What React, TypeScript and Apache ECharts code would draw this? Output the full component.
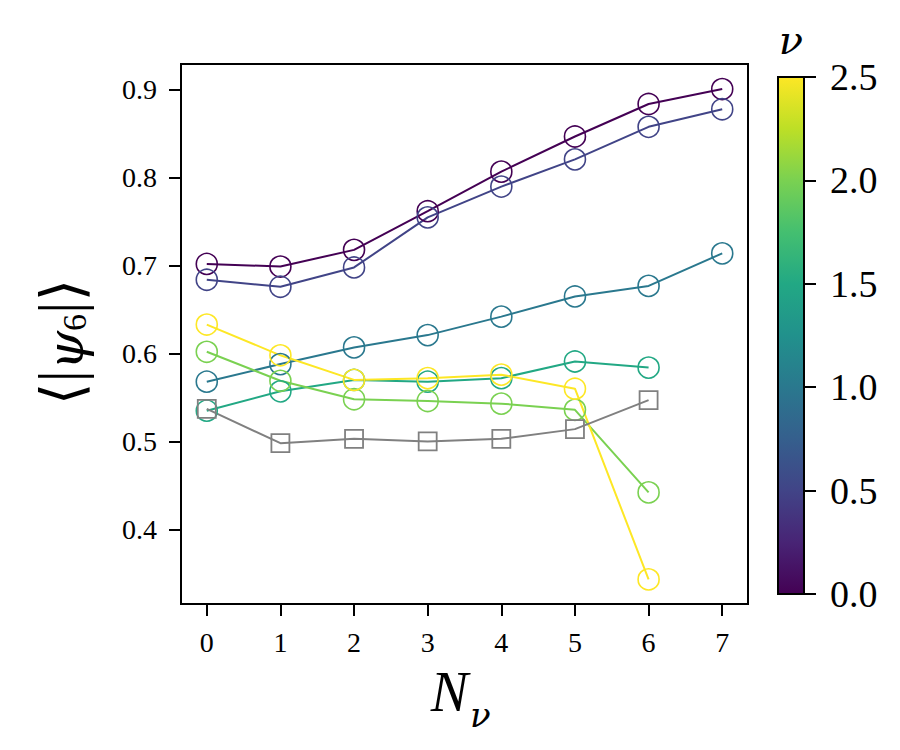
import React, { useEffect, useRef } from "react";
import * as echarts from "echarts";

// ---- data ----
const nCounts = [0, 1, 2, 3, 4, 5, 6, 7];
const nuLevels = [0.0, 0.5, 1.0, 1.5, 2.0, 2.5];
const psiNu00 = [0.702, 0.699, 0.718, 0.762, 0.807, 0.847, 0.884, 0.901];
const psiNu05 = [0.684, 0.676, 0.698, 0.755, 0.790, 0.821, 0.858, 0.878];
const psiNu10 = [0.568, 0.588, 0.607, 0.621, 0.642, 0.665, 0.677, 0.714];
const psiNu15 = [0.535, 0.557, 0.570, 0.568, 0.572, 0.591, 0.584];
const psiNu20 = [0.602, 0.569, 0.548, 0.546, 0.543, 0.536, 0.442];
const psiNu25 = [0.633, 0.598, 0.570, 0.572, 0.576, 0.560, 0.343];
const psiRef = [0.537, 0.498, 0.503, 0.500, 0.503, 0.514, 0.547];
const xTicks = [0, 1, 2, 3, 4, 5, 6, 7];
const yTicks = [0.4, 0.5, 0.6, 0.7, 0.8, 0.9];
const cbTicks = [0.0, 0.5, 1.0, 1.5, 2.0, 2.5];

const viridis = [
  "#440154", "#482475", "#414487", "#355f8d", "#2a788e",
  "#21918c", "#22a884", "#44bf70", "#7ad151", "#bddf26", "#fde725",
];

function hexToRgb(h: string) {
  const n = parseInt(h.slice(1), 16);
  return [(n >> 16) & 255, (n >> 8) & 255, n & 255];
}
function viridisAt(t: number) {
  const p = Math.max(0, Math.min(1, t)) * (viridis.length - 1);
  const i = Math.min(Math.floor(p), viridis.length - 2);
  const f = p - i;
  const a = hexToRgb(viridis[i]);
  const b = hexToRgb(viridis[i + 1]);
  const c = a.map((v, k) => Math.round(v + (b[k] - v) * f));
  return `rgb(${c[0]},${c[1]},${c[2]})`;
}

const SERIF = "'Liberation Serif', 'DejaVu Serif', serif";
const GREEK = "'DejaVu Serif', serif";

export default function App() {
  const ref = useRef<HTMLDivElement>(null);
  useEffect(() => {
    if (!ref.current) return;
    const chart = echarts.init(ref.current, undefined, { renderer: "svg" });
    const groups = [psiNu00, psiNu05, psiNu10, psiNu15, psiNu20, psiNu25];
    const series: any[] = groups.map((vals, gi) => {
      const col = viridisAt(nuLevels[gi] / 2.5);
      return {
        type: "line",
        name: "nu=" + nuLevels[gi],
        data: vals.map((v, i) => [nCounts[i], v]),
        symbol: "circle",
        symbolSize: 21,
        showSymbol: true,
        lineStyle: { color: col, width: 2 },
        itemStyle: { color: "rgba(0,0,0,0)", borderColor: col, borderWidth: 1.6 },
        xAxisIndex: 0,
        yAxisIndex: 0,
        silent: true,
      };
    });
    series.push({
      type: "line",
      name: "ref",
      data: psiRef.map((v, i) => [nCounts[i], v]),
      symbol: "rect",
      symbolSize: 18,
      lineStyle: { color: "#808080", width: 2 },
      itemStyle: { color: "rgba(0,0,0,0)", borderColor: "#808080", borderWidth: 1.8 },
      xAxisIndex: 0,
      yAxisIndex: 0,
      silent: true,
    });
    series.push({
      type: "line",
      data: [],
      xAxisIndex: 1,
      yAxisIndex: 1,
    });

    const cbLeft = 778, cbTop = 77, cbW = 26, cbH = 517;

    chart.setOption({
      animation: false,
      backgroundColor: "#fff",
      grid: [
        { left: 181, top: 64, width: 567, height: 540, show: true, borderColor: "#000", borderWidth: 2, backgroundColor: "transparent" },
        { left: cbLeft, top: cbTop, width: cbW, height: cbH, show: false },
      ],
      xAxis: [
        {
          type: "value", gridIndex: 0, min: -0.35, max: 7.35,
          splitLine: { show: false },
          axisLine: { show: true, onZero: false, lineStyle: { color: "#000", width: 2 } },
          axisTick: { show: true, customValues: xTicks, length: 12, lineStyle: { color: "#000", width: 2 } },
          axisLabel: { customValues: xTicks, margin: 24, fontSize: 28, color: "#000", fontFamily: SERIF, formatter: (v: number) => String(Math.round(v)) },
        },
        { type: "value", gridIndex: 1, show: false, min: 0, max: 1 },
      ],
      yAxis: [
        {
          type: "value", gridIndex: 0, min: 0.315, max: 0.9295,
          splitLine: { show: false },
          axisLine: { show: true, onZero: false, lineStyle: { color: "#000", width: 2 } },
          axisTick: { show: true, customValues: yTicks, length: 12, lineStyle: { color: "#000", width: 2 } },
          axisLabel: { customValues: yTicks, margin: 24, fontSize: 28, color: "#000", fontFamily: SERIF, formatter: (v: number) => v.toFixed(1) },
        },
        {
          type: "value", gridIndex: 1, position: "right", min: 0, max: 2.5, interval: 0.5,
          splitLine: { show: false },
          axisLine: { show: false, onZero: false },
          axisTick: { show: true, length: 12, lineStyle: { color: "#000", width: 2 } },
          axisLabel: { customValues: cbTicks, margin: 26, fontSize: 38, color: "#000", fontFamily: SERIF, formatter: (v: number) => v.toFixed(1) },
        },
      ],
      series,
      graphic: [
        {
          type: "rect", z: -1,
          shape: { x: cbLeft, y: cbTop, width: cbW, height: cbH },
          style: {
            fill: new echarts.graphic.LinearGradient(0, 1, 0, 0,
              viridis.map((c, i) => ({ offset: i / (viridis.length - 1), color: c }))),
            stroke: "#000", lineWidth: 2,
          },
        },
        {
          type: "text", x: 791, y: 40,
          style: { text: "ν", fontSize: 40, fontStyle: "italic", fontFamily: GREEK, fill: "#000", align: "center", verticalAlign: "middle" },
        },
        {
          type: "text", x: 468, y: 720,
          style: { text: "N", fontSize: 56, fontStyle: "italic", fontFamily: SERIF, fill: "#000", align: "right", verticalAlign: "bottom" },
        },
        {
          type: "text", x: 470, y: 732,
          style: { text: "ν", fontSize: 34, fontStyle: "italic", fontFamily: GREEK, fill: "#000", align: "left", verticalAlign: "bottom" },
        },
        {
          type: "text", x: 55, y: 342, rotation: Math.PI / 2,
          style: {
            text: "{b|⟨}{a||}{p|ψ}{s|6}{a||}{b|⟩}",
            align: "center", verticalAlign: "middle",
            rich: {
              b: { fontSize: 58, fontFamily: GREEK, fill: "#000", verticalAlign: "bottom", lineHeight: 72 },
              a: { fontSize: 62, fontFamily: SERIF, fill: "#000", verticalAlign: "bottom", lineHeight: 72 },
              p: { fontSize: 50, fontStyle: "italic", fontFamily: GREEK, fill: "#000", verticalAlign: "bottom", lineHeight: 68 },
              s: { fontSize: 34, fontFamily: SERIF, fill: "#000", verticalAlign: "bottom", lineHeight: 54 },
            },
          },
        },
      ],
    });
    return () => chart.dispose();
  }, []);
  return <div ref={ref} style={{ position: "fixed", left: 0, top: 0, width: 900, height: 750 }} />;
}
